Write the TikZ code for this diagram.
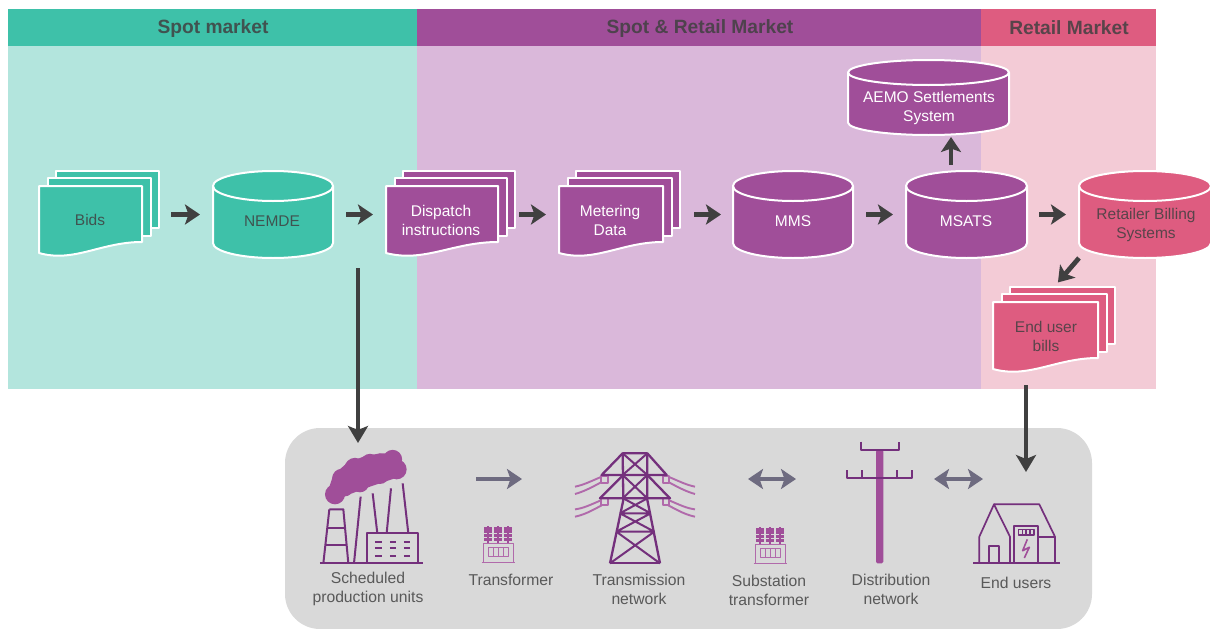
\documentclass[tikz,border=0pt]{standalone}
\usepackage{fontspec}
\setmainfont{Liberation Sans}
\usetikzlibrary{arrows.meta,calc}
\definecolor{teal1}{HTML}{3EC1A9}
\definecolor{teal2}{HTML}{B3E5DD}
\definecolor{purp1}{HTML}{A04E99}
\definecolor{purp2}{HTML}{DAB8DA}
\definecolor{pink1}{HTML}{DE5C80}
\definecolor{pink2}{HTML}{F3CBD6}
\definecolor{panelgrey}{HTML}{D9D9D9}
\definecolor{darkarrow}{HTML}{404040}
\definecolor{greyarrow}{HTML}{6E6B80}
\definecolor{darkpurp}{HTML}{74307C}
\definecolor{lightpurp}{HTML}{B16AAB}
\definecolor{caption}{HTML}{595959}
\tikzset{
  band/.style={fill=#1,draw=none},
  headtxt/.style={font=\bfseries\fontsize{19.2}{22}\selectfont,text=#1,inner sep=0pt},
  shapeline/.style={draw=white,line width=2pt,fill=#1,line join=round},
  lbl/.style={font=\fontsize{15.5}{19}\selectfont,align=center,text=#1,inner sep=0pt},
  iconcap/.style={font=\fontsize{15.7}{19}\selectfont,align=center,text=caption,inner sep=0pt},
  hbox/.style={inner sep=0pt,outer sep=0pt,draw=none,fill=none},
  flow/.style={draw=darkarrow,line width=4.8pt,-{Stealth[length=15pt,width=20pt,inset=3.5pt]}},
  longflow/.style={draw=darkarrow,line width=4.8pt,-{Stealth[length=17pt,width=20pt,inset=4pt]}},
  gflow/.style={draw=greyarrow,line width=4.8pt,-{Stealth[length=15pt,width=20pt,inset=3.5pt]}},
  gflowtwo/.style={draw=greyarrow,line width=4.8pt,{Stealth[length=15pt,width=20pt,inset=3.5pt]}-{Stealth[length=15pt,width=20pt,inset=3.5pt]}},
  iconline/.style={draw=darkpurp,line width=2pt,fill=none,line join=round},
  iconthin/.style={draw=lightpurp,line width=1.6pt,fill=none,line join=round},
}
% name, x0, y0, w, h, ry, fill
\newcommand{\cyl}[7]{%
\begin{scope}[shift={(#2,#3)}]
\pgfmathsetmacro{\wm}{#4/2}\pgfmathsetmacro{\wk}{#4*0.225}\pgfmathsetmacro{\rk}{#6*0.45}
\pgfmathsetmacro{\wr}{#4-\wk}\pgfmathsetmacro{\bs}{#5-#6}\pgfmathsetmacro{\bc}{#5-#6+#6*0.55}
\pgfmathsetmacro{\ts}{#6*2}
\path[shapeline=#7] (0,#6) .. controls (0,\rk) and (\wk,0) .. (\wm,0)
  .. controls (\wr,0) and (#4,\rk) .. (#4,#6) -- (#4,\bs)
  .. controls (#4,\bc) and (\wr,#5) .. (\wm,#5)
  .. controls (\wk,#5) and (0,\bc) .. (0,\bs) -- cycle;
\pgfmathsetmacro{\tc}{#6+#6*0.55}
\draw[white,line width=2pt] (0,#6) .. controls (0,\tc) and (\wk,\ts) .. (\wm,\ts)
  .. controls (\wr,\ts) and (#4,\tc) .. (#4,#6);
\node[hbox,minimum width=#4pt,minimum height=#5pt] (#1) at (\wm,#5/2) {};
\end{scope}}
% name, x0 (front left), y0 (front top), w (front width), fill
\newcommand{\docs}[5]{%
\begin{scope}[shift={(#2,#3)}]
\pgfmathsetmacro{\wtwo}{#4+9}\pgfmathsetmacro{\wthree}{#4+17}
\pgfmathsetmacro{\ca}{#4*0.34}\pgfmathsetmacro{\cb}{#4*0.6}
\path[shapeline=#5] (17,-15) rectangle (\wthree,42);
\path[shapeline=#5] (9,-8) rectangle (\wtwo,50);
\path[shapeline=#5] (0,0) -- (#4,0) -- (#4,56)
  .. controls (\cb,56) and (\ca,77) .. (0,67) -- cycle;
\pgfmathsetmacro{\cx}{(#4+17)/2}
\node[hbox,minimum width={(#4+17)*1pt},minimum height=87pt] (#1) at (\cx,28.5) {};
\end{scope}}
\newcommand{\xfmr}[3]{%
\begin{scope}[shift={(#2,#3)},x=0.3333pt,y=-0.3333pt]
\node[hbox,minimum width=33pt,minimum height=40pt] (#1) at (55,55) {};
\draw[iconthin] (5,110) -- (105,110);
\draw[iconthin] (10,110) -- (10,52) -- (100,52) -- (100,110);
\draw[iconthin] (26,65) rectangle (86,92);
\draw[iconthin] (41,65) -- (41,92) (56,65) -- (56,92) (71,65) -- (71,92);
\foreach \q in {25,55,85}{
  \fill[purp1] (\q-3,0) rectangle (\q+3,50);
  \foreach \r in {6,17,28,39}{\fill[purp1] (\q-12,\r-4.5) -- (\q+12,\r-4.5) -- (\q+12,\r+4.5) -- (\q-12,\r+4.5) -- cycle;}
}
\end{scope}}
\begin{document}
\begin{tikzpicture}[x=1pt,y=-1pt]
\useasboundingbox (0,0) rectangle (1213,629);
% bands
\path[band=teal2] (8,46) rectangle (417,389);
\path[band=purp2] (417,46) rectangle (981,389);
\path[band=pink2] (981,46) rectangle (1156,389);
\path[band=teal1] (8,9) rectangle (417,46);
\path[band=purp1] (417,9) rectangle (981,46);
\path[band=pink1] (981,9) rectangle (1156,46);
\node[headtxt=darkarrow!85!teal1] (h1) at (213,29) {Spot market};
\node[headtxt=darkarrow!85!purp1] (h2) at (700,29) {Spot \& Retail Market};
\node[headtxt=darkarrow!85!pink1] (h3) at (1069,28) {Retail Market};
% panel
\fill[panelgrey,rounded corners=35pt] (285,428) rectangle (1092,629);
% shapes
\docs{bids}{39}{186}{103}{teal1}
\node[lbl=darkarrow!85!teal1] (bidst) at (90,220) {Bids};
\cyl{nemde}{213}{171}{120}{87}{15}{teal1}
\node[lbl=darkarrow!85!teal1] (nemdet) at (272,221) {NEMDE};
\docs{dispatch}{386}{186}{112}{purp1}
\node[lbl=white] (dispatcht) at (441,220) {Dispatch\\instructions};
\docs{metering}{559}{186}{104}{purp1}
\node[lbl=white] (meteringt) at (610,220) {Metering\\Data};
\cyl{mms}{733}{171}{120}{87}{15}{purp1}
\node[lbl=white] (mmst) at (793,221) {MMS};
\cyl{msats}{906}{171}{121}{87}{15}{purp1}
\node[lbl=white] (msatst) at (966,221) {MSATS};
\cyl{retail}{1079}{171}{132}{87}{15}{pink1}
\node[lbl=darkarrow!85!pink1] (retailt) at (1146,225) {Retailer Billing\\Systems};
\cyl{aemo}{848}{60}{161}{75}{12.5}{purp1}
\node[lbl=white] (aemot) at (929,108) {AEMO Settlements\\System};
\docs{bills}{993}{302}{105}{pink1}
\node[lbl=darkarrow!85!pink1] (billst) at (1046,336) {End user\\bills};
% flow connectors
\draw[flow] ($(bids.east)+(12,0)$) -- ($(bids.east -| nemde.west)+(-13,0)$);
\draw[flow] ($(bids.east -| nemde.east)+(13,0)$) -- ($(bids.east -| dispatch.west)+(-13,0)$);
\draw[flow] ($(bids.east -| dispatch.east)+(4,0)$) -- ($(bids.east -| metering.west)+(-13,0)$);
\draw[flow] ($(bids.east -| metering.east)+(14,0)$) -- ($(bids.east -| mms.west)+(-12,0)$);
\draw[flow] ($(bids.east -| mms.east)+(13,0)$) -- ($(bids.east -| msats.west)+(-13,0)$);
\draw[flow] ($(bids.east -| msats.east)+(12,0)$) -- ($(bids.east -| retail.west)+(-13,0)$);
\coordinate (msatsout) at (951,165);
\coordinate (aemoin) at (951,137);
\draw[flow] (msatsout) -- (aemoin);
\draw[flow,shorten >=6pt] (retail.south west) -- (bills.north);
\coordinate (dispatchout) at (358,268);
\coordinate (prodtop) at (358,443);
\draw[longflow] (dispatchout) -- (prodtop);
\coordinate (billsout) at (1026,385);
\coordinate (userstop) at (1026,472);
\draw[longflow] (billsout) -- (userstop);
% factory
\begin{scope}[shift={(280,420)},x=0.3333pt,y=-0.3333pt]
\fill[purp1] (140,225) -- (160,165) -- (200,130) -- (250,110) -- (300,100) -- (345,100) -- (378,140) -- (372,165) -- (330,180) -- (270,200) -- (200,226) -- (165,245) -- cycle;
\foreach \cx/\cy/\rr in {165/223/10,185/175/9.5,225/145/10.5,270/130/9.5,300/125/8,338/118/9.5,350/148/10,300/165/9,240/190/9,195/205/8}{
  \fill[purp1] (\cx,\cy) circle[radius=\rr pt];}
\draw[iconline] (120,430) -- (428,430);
\draw[iconline] (148,268) -- (190,268) -- (205,430) (148,268) -- (130,430);
\draw[iconline] (143,325) -- (195,325) (137,375) -- (200,375);
\draw[iconline] (222,430) -- (242,230) (278,220) -- (292,340) (320,340) -- (333,205) (368,190) -- (385,340);
\draw[iconline] (260,430) -- (260,340) -- (415,340) -- (415,430);
\foreach \yy in {365,385,408}{
  \draw[iconline,line width=1.8pt] (285,\yy) -- (305,\yy) (330,\yy) -- (348,\yy) (372,\yy) -- (390,\yy);}
\node[hbox,minimum width=103pt,minimum height=115pt] (factory) at (274,258) {};
\end{scope}
\node[iconcap] (cap1) at (368,589) {Scheduled\\production units};
% transformers
\xfmr{xf1}{480}{526}
\node[iconcap] (cap2) at (511,580) {Transformer};
\xfmr{xf2}{752}{527}
\node[iconcap] (cap4) at (769,590) {Substation\\transformer};
% tower
\begin{scope}[shift={(560,420)},x=0.3333pt,y=-0.3333pt]
\foreach \s/\e/\m in {125/45/1,325/405/-1}{
  \draw[iconthin,line width=1.9pt] (\s,170) .. controls (\s-\m*35,185) and (\s-\m*55,195) .. (\e,200);
  \draw[iconthin,line width=1.9pt] (\s,186) .. controls (\s-\m*35,205) and (\s-\m*55,215) .. (\e,222);
  \draw[iconthin,line width=1.9pt] (\s,240) .. controls (\s-\m*35,255) and (\s-\m*55,265) .. (\e,268);
  \draw[iconthin,line width=1.9pt] (\s,256) .. controls (\s-\m*35,275) and (\s-\m*55,285) .. (\e,290);
}
\foreach \q/\w in {133/178,318/178,133/245,318/245}{
  \draw[iconthin,line width=1.9pt] (\q-10,\w-10) rectangle (\q+10,\w+10);}
\draw[iconline,line width=2.3pt] (150,430) -- (300,430);
\draw[iconline,line width=2.3pt] (150,430) -- (190,240) -- (188,100) -- (262,100) -- (262,240) -- (300,430);
\draw[iconline,line width=2.3pt] (188,100) -- (125,165) -- (320,165) -- (262,100);
\draw[iconline,line width=2.3pt] (190,165) -- (120,235) -- (330,235) -- (262,165);
\draw[iconline,line width=2pt] (188,100) -- (262,165) (262,100) -- (188,165)
  (188,165) -- (262,235) (262,165) -- (188,235)
  (190,235) -- (272,280) (262,235) -- (180,280)
  (180,280) -- (272,280)
  (180,280) -- (283,335) (272,280) -- (169,335)
  (169,335) -- (283,335)
  (169,335) -- (300,430) (283,335) -- (150,430);
\node[hbox,minimum width=120pt,minimum height=111pt] (tower) at (225,265) {};
\end{scope}
\node[iconcap] (cap3) at (639,589) {Transmission\\network};
% pole
\begin{scope}[shift={(820,420)},x=0.3333pt,y=-0.3333pt]
\fill[purp1,rounded corners=1.5pt] (168,90) rectangle (190,430);
\draw[iconline] (122,65) -- (122,90) -- (238,90) -- (238,65);
\draw[iconline] (82,150) -- (82,175) -- (277,175) -- (277,150) (125,150) -- (125,175) (232,150) -- (232,175);
\node[hbox,minimum width=65pt,minimum height=122pt] (pole) at (180,248) {};
\end{scope}
\node[iconcap] (cap5) at (891,589) {Distribution\\network};
% house
\begin{scope}[shift={(820,420)},x=0.3333pt,y=-0.3333pt]
\draw[iconline,line width=1.7pt] (460,430) -- (720,430);
\draw[iconline,line width=1.7pt] (478,430) -- (478,350) -- (522,253) -- (570,350) -- (570,430);
\draw[iconline,line width=1.7pt] (522,253) -- (658,253) -- (705,350) -- (705,430);
\draw[iconline,line width=1.7pt] (508,430) -- (508,378) -- (537,378) -- (537,430);
\draw[iconline,line width=1.7pt] (583,430) -- (583,318) -- (655,318) -- (655,430) (655,350) -- (705,350);
\draw[iconline,line width=1.2pt] (595,328) rectangle (642,345);
\draw[iconline,line width=1.1pt] (607,328) -- (607,345) (618,328) -- (618,345) (630,328) -- (630,345);
\draw[iconthin,draw=purp1,line width=1.6pt] (622,358) -- (608,392) -- (628,382) -- (613,414);
\node[hbox,minimum width=87pt,minimum height=60pt] (house) at (590,342) {};
\end{scope}
\node[iconcap] (cap6) at (1016,583) {End users};
% grey connectors between icons
\coordinate (g1a) at (476,479); \coordinate (g1b) at (522,479);
\draw[gflow] (g1a) -- (g1b);
\coordinate (g2a) at (748,479); \coordinate (g2b) at (796,479);
\draw[gflowtwo] (g2a) -- (g2b);
\coordinate (g3a) at (934,479); \coordinate (g3b) at (983,479);
\draw[gflowtwo] (g3a) -- (g3b);
\end{tikzpicture}
\end{document}
